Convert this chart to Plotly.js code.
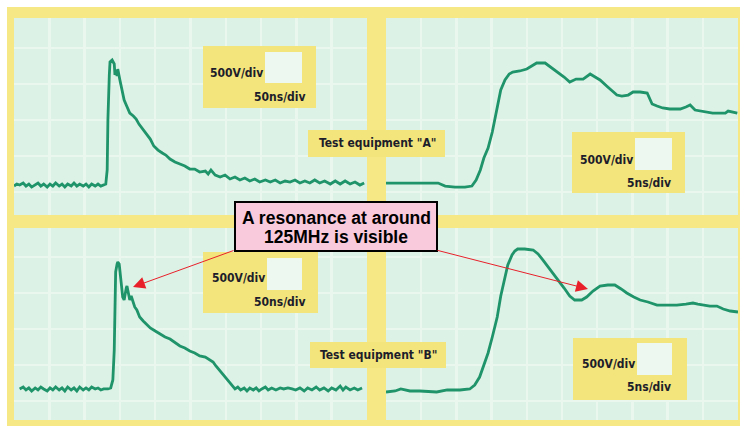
<!DOCTYPE html>
<html><head><meta charset="utf-8">
<script src="https://cdn.plot.ly/plotly-3.0.1.min.js"></script>
<style>html,body{margin:0;padding:0;background:#fff;}#chart{width:740px;height:426px;}</style>
</head><body><div id="chart"></div>
<script>
// ---- data (time in ns, voltage in V) ----
const tlTime = [0,4,8,13,17,21,25,30,34,38,42,47,51,55,59,64,68,72,76,81,85,89,93,98,102,106,110,115,119,123,127,130,132,133,135,136,139,142,143,144,146,147,150,153,156,159,161,164,169,173,177,181,187,193,198,204,210,215,221,228,235,242,249,256,263,271,275,279,285,292,299,306,313,320,327,334,341,348,356,363,370,377,384,391,398,405,412,419,426,433,440,448,455,462,469,476,483,490,496];
const tlVolt = [83,111,97,125,83,111,69,97,125,83,111,69,111,83,125,83,111,69,111,83,125,83,111,83,111,69,111,83,111,83,97,111,306,1000,1625,1806,1833,1778,1625,1694,1611,1708,1556,1417,1278,1208,1167,1097,1056,1014,944,889,806,736,639,583,542,514,458,417,389,361,319,319,278,292,250,306,236,208,236,181,208,167,194,153,181,139,167,139,167,125,153,139,167,125,153,125,167,125,153,111,153,111,153,111,139,97,125];

const trTime = [0,2.0,4.8,7.4,8.4,9.8,11.2,12.2,12.8,13.4,13.9,14.5,15.1,15.5,15.9,16.3,16.9,17.5,18.0,19.0,20.0,20.7,21.4,22.6,23.4,24.3,25.3,26.1,27.0,28.0,29.0,29.7,30.4,31.5,32.8,33.5,34.4,35.1,36.1,37.1,37.8,38.5,39.3,40.3,41.8,42.6,43.2,43.9,45.0,46.4,47.4,48.2,48.6,49.3,49.9];
const trVolt = [125,125,125,125,83,69,69,83,167,306,472,611,833,1042,1250,1417,1556,1639,1667,1681,1708,1750,1792,1792,1736,1667,1597,1528,1569,1569,1639,1597,1556,1458,1347,1333,1347,1389,1389,1375,1222,1194,1167,1153,1153,1181,1208,1139,1125,1097,1097,1097,1125,1111,1097];

const blTime = [8,13,17,21,25,30,34,38,42,47,51,55,59,64,68,72,76,81,85,89,93,98,102,106,110,115,119,123,127,133,137,140,142,143,144,146,147,149,150,151,153,154,156,157,159,160,161,163,164,166,169,171,174,178,183,187,193,200,207,214,221,228,235,242,249,256,263,271,278,282,286,292,297,303,309,313,317,321,326,330,334,339,343,347,351,356,360,365,371,377,382,388,394,399,405,411,416,422,428,433,439,445,450,456,462,466,470,476,482,487,493];
const blVolt = [167,194,153,181,139,181,153,194,167,139,181,153,194,153,181,139,194,153,181,139,194,153,181,153,194,167,181,153,167,167,181,292,708,1403,1792,1903,1931,1903,1819,1681,1514,1444,1403,1472,1569,1597,1542,1431,1403,1458,1375,1306,1264,1167,1111,1069,1014,972,931,889,861,806,764,736,694,667,625,611,569,542,486,417,361,292,222,167,194,153,181,139,181,153,181,139,167,194,153,181,153,181,167,181,167,153,181,139,181,153,194,153,181,139,181,153,208,153,194,153,181,153,181];

const brTime = [0,1.3,2.1,2.7,3.4,4.8,7.2,8.7,10.5,11.9,12.6,13.3,13.9,14.5,15.1,15.8,16.3,16.9,17.3,17.9,18.3,18.7,19.7,20.9,21.6,22.3,23.3,24.3,25.3,26.1,26.8,27.8,28.5,29.4,30.4,31.5,32.5,33.4,34.2,35.2,36.1,37.2,38.5,39.9,41.3,42.6,43.6,44.3,45.0,46.0,47.0,47.9,48.9,50.0];
const brVolt = [125,139,167,153,139,139,125,153,153,167,222,333,486,667,889,1167,1458,1722,1889,2028,2083,2111,2111,2097,2042,1958,1833,1708,1569,1458,1403,1403,1444,1528,1597,1611,1611,1556,1500,1444,1403,1375,1333,1333,1333,1347,1361,1347,1333,1319,1319,1278,1250,1236];

const voltLabel = "500V/div";
const timeLabels = ["50ns/div", "5ns/div", "50ns/div", "5ns/div"];
const equipmentLabels = ['Test equipment "A"', 'Test equipment "B"'];
const noteLines = ["A resonance at around", "125MHz is visible"];

// ---- layout helpers ----
const W = 740, H = 426;
const px = v => v / W, py = v => 1 - v / H;
const YEL = '#f6e985', BOXY = '#f3e57c', WAVE = '#1f936a', TXT = '#1d1d2b';
const labelFont = {family: '"Liberation Sans Narrow", "DejaVu Sans Condensed", "Arial Narrow", sans-serif', size: 12, color: TXT};

function xa(d, r, dt, anchor) {
  return {domain: d, range: r, dtick: dt, tick0: 0, anchor: anchor, showgrid: true, gridcolor: '#eaf7ef', gridwidth: 2.5,
    zeroline: false, showticklabels: false, ticks: '', showline: false, fixedrange: true};
}

const traces = [
  {x: tlTime, y: tlVolt, xaxis: 'x', yaxis: 'y'},
  {x: trTime, y: trVolt, xaxis: 'x2', yaxis: 'y2'},
  {x: blTime, y: blVolt, xaxis: 'x3', yaxis: 'y3'},
  {x: brTime, y: brVolt, xaxis: 'x4', yaxis: 'y4'}
].map(t => Object.assign(t, {type: 'scatter', mode: 'lines', line: {color: WAVE, width: 2.8}, hoverinfo: 'skip', showlegend: false}));

const shapes = [];
function rect(x0, y0, x1, y1, fill, line) {
  shapes.push({type: 'rect', xref: 'paper', yref: 'paper', x0: px(x0), x1: px(x1), y0: py(y1), y1: py(y0),
    fillcolor: fill, line: line || {width: 0}, layer: 'above'});
}
rect(0, 0, 740, 7, '#ffffff');
rect(0, 0, 7, 426, '#ffffff');

const annotations = [];
function txt(x, y, s, xanchor, font) {
  annotations.push({xref: 'paper', yref: 'paper', x: px(x), y: py(y), text: '<b>' + s + '</b>', showarrow: false,
    xanchor: xanchor, yanchor: 'middle', font: font || labelFont});
}

// scale boxes: [box x0,y0,x1,y1, white x0,y0,x1,y1, volt left x,y, time right x,y]
const scaleBoxes = [
  [203, 46, 316, 108, 265, 52, 302, 83, 208, 73, 308, 97],
  [572, 132, 685, 193, 635, 138, 672, 170, 578, 160, 673, 183],
  [203, 252, 318, 313, 267, 258, 302, 290, 210, 278, 308, 302],
  [573, 338, 687, 400, 637, 343, 672, 375, 580, 364, 673, 387]
];
scaleBoxes.forEach((b, i) => {
  rect(b[0], b[1], b[2], b[3], BOXY);
  rect(b[4], b[5], b[6], b[7], '#ecf8f0');
  txt(b[8], b[9], voltLabel, 'left');
  txt(b[10], b[11], timeLabels[i], 'right');
});
const eqBoxes = [[308, 130, 445, 157, 377, 143], [310, 342, 446, 368, 378, 355]];
eqBoxes.forEach((b, i) => {
  rect(b[0], b[1], b[2], b[3], BOXY);
  txt(b[4], b[5], equipmentLabels[i], 'center');
});

// note box
rect(235, 202, 437, 251, '#f9c9dc', {color: '#000000', width: 2});
const noteFont = {family: '"Liberation Sans", Arial, sans-serif', size: 17.5, color: '#000'};
txt(336, 218, noteLines[0], 'center', noteFont);
txt(336, 237, noteLines[1], 'center', noteFont);

// arrows
function arrow(tx, ty, sx, sy) {
  annotations.push({xref: 'paper', yref: 'paper', x: px(tx), y: py(ty), ax: sx - tx, ay: sy - ty, axref: 'pixel', ayref: 'pixel',
    text: '', showarrow: true, arrowhead: 2, arrowsize: 2.4, arrowwidth: 1, arrowcolor: '#e8202a'});
}
arrow(133, 287, 235, 250);
arrow(588, 289, 436, 250);

const layout = {
  width: W, height: H, margin: {l: 0, r: 0, t: 0, b: 0, pad: 0},
  paper_bgcolor: YEL, plot_bgcolor: '#dcf2e6', showlegend: false,
  xaxis: xa([px(14), px(367)], [0, 500], 50, 'y'),
  yaxis: xa([py(215), py(18)], [-319, 2417], 500, 'x'),
  xaxis2: xa([px(386), px(738)], [0, 50], 5, 'y2'),
  yaxis2: xa([py(215), py(18)], [-319, 2417], 500, 'x2'),
  xaxis3: xa([px(14), px(367)], [0, 500], 50, 'y3'),
  yaxis3: xa([py(420), py(228)], [-264, 2403], 500, 'x3'),
  xaxis4: xa([px(386), px(738)], [0, 50], 5, 'y4'),
  yaxis4: xa([py(420), py(228)], [-264, 2403], 500, 'x4'),
  shapes: shapes, annotations: annotations
};
Plotly.newPlot('chart', traces, layout, {displayModeBar: false, staticPlot: true});
</script>
</body></html>
